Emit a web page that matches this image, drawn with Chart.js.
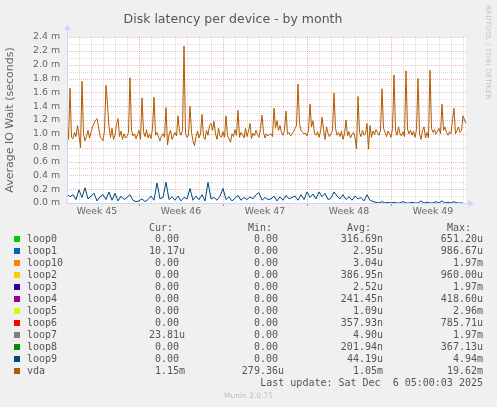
<!DOCTYPE html>
<html>
<head>
<meta charset="utf-8">
<title>Disk latency per device - by month</title>
<script src="https://cdn.jsdelivr.net/npm/chart.js@4.4.1/dist/chart.umd.min.js"></script>
<style>
  html, body { margin: 0; padding: 0; background: #f0f0f0; }
  #wrap { position: relative; width: 497px; height: 407px; overflow: hidden; }
  #chart { position: absolute; left: 0; top: 0; }
  .lg { position: absolute; font: 10px "DejaVu Sans Mono", monospace; color: #555; white-space: pre; line-height: 12px; height: 12px; }
  .sw { position: absolute; width: 6px; height: 6px; }
  #upd { position: absolute; font: 10px "DejaVu Sans Mono", monospace; color: #555; white-space: pre; line-height: 12px; right: 14px; top: 377px; }
  #munin { position: absolute; left: 0; width: 497px; text-align: center; top: 391px; font: 7.5px "DejaVu Sans", sans-serif; color: #bdbdbd; }
  #rrd { position: absolute; left: 484px; top: 5px; writing-mode: vertical-rl; font: 7px "DejaVu Sans", sans-serif; color: #c4c4c4; letter-spacing: 0.2px; }
</style>
</head>
<body>
<div id="wrap">
  <canvas id="chart" width="497" height="407"></canvas>
  <div id="rrd">RRDTOOL / TOBI OETIKER</div>
  <div id="upd">Last update: Sat Dec  6 05:00:03 2025</div>
  <div id="munin">Munin 2.0.75</div>
</div>
<script>
// ------------------------------------------------------------
// Munin "diskstats latency" month graph, redrawn with Chart.js
// x = days since the left edge of the graph, y = ms
// ------------------------------------------------------------

const weekLabels = ['Week 45', 'Week 46', 'Week 47', 'Week 48', 'Week 49'];
const weekLabelDays = [2.5, 9.5, 16.5, 23.5, 30.5];
const weekStartDays = [6, 13, 20, 27];
const graphDays = 33.25;

// vda, 8 samples per day (ms)
const vdaPerDay = 8;
const vdaValues = [
  1.23, 0.92, 1.66, 0.95, 0.93, 1.02, 0.96, 1.12,
  0.98, 0.80, 1.76, 1.00, 0.90, 0.96, 1.05, 0.94,
  1.02, 1.10, 1.15, 1.20, 1.22, 1.10, 0.97, 0.93,
  0.90, 1.05, 1.70, 1.42, 1.10, 0.95, 1.08, 0.92,
  0.98, 1.14, 1.22, 0.96, 1.04, 0.92, 1.00, 0.94,
  0.96, 1.02, 1.81, 1.05, 0.97, 1.00, 0.93, 0.99,
  1.05, 0.92, 1.52, 1.03, 0.96, 1.06, 0.94, 1.00,
  0.93, 1.08, 1.53, 0.98, 1.02, 0.95, 0.90, 0.97,
  1.00, 0.95, 1.38, 0.84, 0.99, 1.05, 0.92, 0.97,
  1.02, 0.97, 1.26, 1.03, 0.98, 1.05, 2.27, 1.00,
  0.95, 0.98, 1.40, 1.02, 0.90, 0.83, 0.96, 1.04,
  0.94, 1.00, 1.28, 0.96, 0.92, 1.05, 0.98, 1.12,
  1.15, 1.05, 1.18, 1.00, 0.92, 1.08, 0.97, 0.95,
  1.03, 0.95, 1.26, 0.97, 0.93, 0.88, 1.00, 0.96,
  1.06, 0.98, 1.34, 0.95, 1.02, 0.99, 0.94, 1.08,
  0.96, 1.04, 1.15, 0.93, 1.01, 0.97, 1.05, 0.99,
  0.95, 1.08, 1.27, 1.02, 0.94, 1.00, 0.97, 0.99,
  1.00, 0.96, 1.37, 1.08, 1.19, 1.05, 1.12, 1.02,
  0.98, 1.05, 1.33, 1.00, 1.02, 0.97, 1.00, 1.03,
  1.08, 1.12, 1.72, 1.15, 1.05, 1.02, 1.00, 1.01,
  0.97, 1.05, 1.43, 1.10, 1.19, 1.00, 0.98, 1.03,
  0.95, 1.03, 1.24, 1.06, 0.92, 1.10, 1.01, 0.96,
  1.00, 1.05, 1.59, 1.08, 0.98, 1.02, 0.96, 1.04,
  0.92, 1.00, 1.20, 0.97, 1.03, 0.94, 0.99, 1.02,
  0.95, 0.78, 1.54, 1.02, 0.96, 1.05, 0.98, 1.00,
  1.15, 0.78, 1.12, 0.95, 1.04, 0.99, 1.06, 1.02,
  0.98, 1.05, 1.65, 1.08, 1.02, 0.96, 1.04, 1.00,
  0.95, 1.08, 1.85, 1.05, 0.98, 1.10, 1.00, 0.97,
  1.03, 0.96, 1.91, 1.07, 1.00, 1.05, 0.98, 1.04,
  0.95, 1.06, 1.80, 1.00, 0.92, 1.05, 1.10, 0.94,
  1.02, 0.94, 1.92, 1.08, 1.02, 1.06, 1.00, 1.04,
  1.08, 1.00, 1.43, 1.05, 1.10, 1.02, 0.98, 1.03,
  1.00, 1.21, 1.37, 1.00, 1.05, 1.10, 1.02, 1.05,
  1.26, 1.20, 1.15
];

// loop9, 4 samples per day (ms)
const loop9PerDay = 4;
const loop9Values = [
  0.13, 0.09, 0.12, 0.05,
  0.19, 0.08, 0.22, 0.06,
  0.10, 0.14, 0.03, 0.09,
  0.12, 0.05, 0.16, 0.04,
  0.14, 0.03, 0.10, 0.05,
  0.08, 0.12, 0.04, 0.02,
  0.03, 0.06, 0.02, 0.05,
  0.10, 0.04, 0.29, 0.06,
  0.08, 0.30, 0.05, 0.09,
  0.04, 0.10, 0.03, 0.08,
  0.06, 0.21, 0.04, 0.10,
  0.05, 0.12, 0.03, 0.30,
  0.06, 0.08, 0.04, 0.10,
  0.21, 0.05, 0.09, 0.03,
  0.07, 0.11, 0.04, 0.08,
  0.05, 0.09, 0.06, 0.12,
  0.15, 0.04, 0.08, 0.05,
  0.06, 0.10, 0.03, 0.09,
  0.04, 0.11, 0.06, 0.08,
  0.10, 0.04, 0.12, 0.05,
  0.16, 0.08, 0.13, 0.06,
  0.16, 0.09, 0.14, 0.05,
  0.07, 0.16, 0.10, 0.06,
  0.12, 0.05, 0.09, 0.04,
  0.10, 0.06, 0.08, 0.03,
  0.12, 0.04, 0.02, 0.01,
  0.00, 0.02, 0.00, 0.01,
  0.00, 0.01, 0.00, 0.00,
  0.02, 0.00, 0.00, 0.01,
  0.00, 0.00, 0.03, 0.00,
  0.01, 0.00, 0.00, 0.02,
  0.00, 0.03, 0.00, 0.01,
  0.00, 0.02, 0.00, 0.00,
  0.00
];

// legend table
const legendNames  = ['loop0', 'loop1', 'loop10', 'loop2', 'loop3', 'loop4', 'loop5', 'loop6', 'loop7', 'loop8', 'loop9', 'vda'];
const legendColors = ['#00CC00', '#0066B3', '#FF8000', '#FFCC00', '#330099', '#990099', '#CCFF00', '#FF0000', '#808080', '#008F00', '#00487D', '#B35A00'];
const curValues = ['0.00', '10.17u', '0.00', '0.00', '0.00', '0.00', '0.00', '0.00', '23.81u', '0.00', '0.00', '1.15m'];
const minValues = ['0.00', '0.00', '0.00', '0.00', '0.00', '0.00', '0.00', '0.00', '0.00', '0.00', '0.00', '279.36u'];
const avgValues = ['316.69n', '2.95u', '3.04u', '386.95n', '2.52u', '241.45n', '1.09u', '357.93n', '4.90u', '201.94n', '44.19u', '1.05m'];
const maxValues = ['651.20u', '986.67u', '1.97m', '960.00u', '1.97m', '418.60u', '2.96m', '785.71u', '1.97m', '367.13u', '4.94m', '19.62m'];

const colRight = [185, 284, 383, 483];
const colHeads = ['Cur:', 'Min:', 'Avg:', 'Max:'];

function toPoints(values, perDay) {
  return values.map((v, i) => ({ x: i / perDay, y: v }));
}

// legend, built as real text
const wrap = document.getElementById('wrap');
function addText(txt, right, top) {
  const d = document.createElement('div');
  d.className = 'lg';
  d.textContent = txt;
  d.style.right = (497 - right) + 'px';
  d.style.top = top + 'px';
  wrap.appendChild(d);
}
colHeads.forEach((h, c) => addText(h + '  ', colRight[c], 222));
legendNames.forEach((name, i) => {
  const top = 233 + i * 12;
  const sw = document.createElement('div');
  sw.className = 'sw';
  sw.style.left = '14px';
  sw.style.top = (top + 3) + 'px';
  sw.style.background = legendColors[i];
  wrap.appendChild(sw);
  const n = document.createElement('div');
  n.className = 'lg';
  n.style.left = '27px';
  n.style.top = top + 'px';
  n.textContent = name;
  wrap.appendChild(n);
  [curValues, minValues, avgValues, maxValues].forEach((col, c) => {
    const v = col[i];
    addText(/\d$/.test(v) ? v + ' ' : v, colRight[c], top);
  });
});

// rrdtool-like grid, axis and arrows
const majorGrid = 'rgba(220,130,130,0.55)';
const minorGrid = 'rgba(170,170,170,0.4)';
const munGrid = {
  id: 'munGrid',
  beforeDatasetsDraw(chart) {
    const { ctx, chartArea: a, scales: { x, y } } = chart;
    ctx.save();
    ctx.fillStyle = '#ffffff';
    ctx.fillRect(a.left, a.top, a.right - a.left, a.bottom - a.top);
    ctx.lineWidth = 1;
    ctx.setLineDash([1, 1]);
    for (let t = 1; t <= 24; t++) {
      const py = Math.round(y.getPixelForValue(t / 10)) + 0.5;
      ctx.strokeStyle = t % 2 === 0 ? majorGrid : minorGrid;
      ctx.beginPath(); ctx.moveTo(a.left, py); ctx.lineTo(a.right, py); ctx.stroke();
    }
    for (let d = 1; d <= Math.floor(graphDays); d++) {
      const px = Math.round(x.getPixelForValue(d)) + 0.5;
      ctx.strokeStyle = weekStartDays.includes(d) ? majorGrid : minorGrid;
      ctx.beginPath(); ctx.moveTo(px, a.top); ctx.lineTo(px, a.bottom); ctx.stroke();
    }
    ctx.restore();
  },
  afterDatasetsDraw(chart) {
    const { ctx, chartArea: a, scales: { x } } = chart;
    ctx.save();
    ctx.strokeStyle = '#CFD6F8';
    ctx.fillStyle = '#CFD6F8';
    ctx.lineWidth = 1;
    const bx = a.left + 0.5, by = a.bottom + 0.5;
    ctx.beginPath(); ctx.moveTo(bx, by); ctx.lineTo(a.right + 4, by); ctx.stroke();
    ctx.beginPath(); ctx.moveTo(bx, by); ctx.lineTo(bx, a.top - 8); ctx.stroke();
    ctx.beginPath();
    ctx.moveTo(a.right + 8, by); ctx.lineTo(a.right + 2, by - 3.5); ctx.lineTo(a.right + 2, by + 3.5);
    ctx.closePath(); ctx.fill();
    ctx.beginPath();
    ctx.moveTo(bx, a.top - 13); ctx.lineTo(bx - 3.5, a.top - 7); ctx.lineTo(bx + 3.5, a.top - 7);
    ctx.closePath(); ctx.fill();
    ctx.strokeStyle = 'rgba(215,90,90,0.8)';
    weekStartDays.forEach(d => {
      const px = Math.round(x.getPixelForValue(d)) + 0.5;
      ctx.beginPath(); ctx.moveTo(px, a.bottom + 1); ctx.lineTo(px, a.bottom + 3); ctx.stroke();
    });
    ctx.restore();
  }
};

const axisFont = { family: 'DejaVu Sans', size: 9.33 };

new Chart(document.getElementById('chart'), {
  type: 'line',
  data: {
    datasets: [
      {
        label: 'loop9',
        data: toPoints(loop9Values, loop9PerDay),
        borderColor: '#00487D',
        borderWidth: 1,
        pointRadius: 0,
        tension: 0
      },
      {
        label: 'vda',
        data: toPoints(vdaValues, vdaPerDay),
        borderColor: '#B35A00',
        borderWidth: 1,
        pointRadius: 0,
        tension: 0
      }
    ]
  },
  options: {
    responsive: false,
    animation: false,
    events: [],
    layout: { padding: { left: 0, right: 31, top: 0, bottom: 184 } },
    plugins: {
      legend: { display: false },
      tooltip: { enabled: false },
      title: {
        display: true,
        text: 'Disk latency per device - by month',
        color: '#555',
        font: { family: 'DejaVu Sans', size: 12.5, weight: 'normal' },
        padding: { top: 12, bottom: 10 }
      }
    },
    scales: {
      x: {
        type: 'linear',
        min: 0,
        max: graphDays,
        grid: { display: false, drawTicks: false },
        border: { display: false },
        afterBuildTicks: scale => { scale.ticks = weekLabelDays.map(v => ({ value: v })); },
        afterFit: scale => { scale.height = 20; },
        ticks: {
          color: '#666',
          font: axisFont,
          padding: 3,
          maxRotation: 0,
          autoSkip: false,
          callback: (val, idx) => weekLabels[idx]
        }
      },
      y: {
        min: 0,
        max: 2.4,
        grid: { display: false, drawTicks: false },
        border: { display: false },
        afterFit: scale => { scale.width = 67; },
        ticks: {
          stepSize: 0.2,
          autoSkip: false,
          color: '#666',
          font: axisFont,
          padding: 7,
          callback: v => v.toFixed(1) + ' m'
        },
        title: {
          display: true,
          text: 'Average IO Wait (seconds)',
          color: '#666',
          font: { family: 'DejaVu Sans', size: 11 },
          padding: { top: 4, bottom: 0 }
        }
      }
    }
  },
  plugins: [munGrid]
});
</script>
</body>
</html>
